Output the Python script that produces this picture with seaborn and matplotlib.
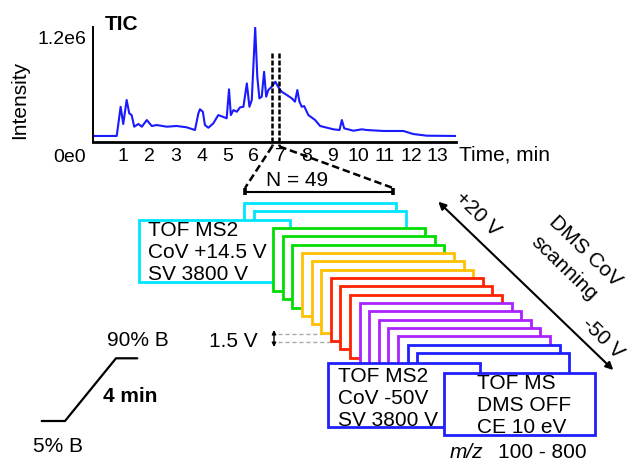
import matplotlib
matplotlib.use("Agg")
import matplotlib.pyplot as plt
from matplotlib.patches import Rectangle
from matplotlib.transforms import ScaledTranslation
import pandas as pd
import seaborn as sns

# Total ion chromatogram: retention time (min) and intensity (counts)
tic_time = [-0.13, 0.76, 0.82, 0.91, 1.01, 1.14, 1.24, 1.33, 1.43, 1.59, 1.72, 1.91,
            2.10, 2.29, 2.67, 3.05, 3.43, 3.75, 3.88, 3.94, 4.05, 4.13, 4.26, 4.45,
            4.64, 4.81, 4.96, 5.05, 5.12, 5.22, 5.35, 5.47, 5.60, 5.73, 5.83, 5.92,
            6.05, 6.13, 6.21, 6.30, 6.39, 6.47, 6.55, 6.68, 6.82, 6.94, 7.06, 7.26,
            7.45, 7.57, 7.66, 7.74, 7.83, 7.92, 8.08, 8.34, 8.53, 9.04, 9.27, 9.36,
            9.45, 9.80, 10.12, 10.31, 10.95, 11.71, 12.09, 12.61, 13.73]
tic_intensity = [69e3, 69e3, 200e3, 403e3, 206e3, 480e3, 328e3, 308e3, 175e3, 206e3,
                 175e3, 251e3, 183e3, 194e3, 175e3, 183e3, 168e3, 137e3, 328e3, 374e3,
                 346e3, 194e3, 163e3, 213e3, 308e3, 289e3, 271e3, 602e3, 308e3, 365e3,
                 346e3, 396e3, 403e3, 670e3, 403e3, 480e3, 1310e3, 746e3, 499e3, 518e3,
                 803e3, 518e3, 594e3, 632e3, 689e3, 625e3, 575e3, 537e3, 499e3, 461e3,
                 594e3, 461e3, 403e3, 411e3, 308e3, 251e3, 183e3, 145e3, 137e3, 251e3,
                 156e3, 129e3, 145e3, 137e3, 126e3, 126e3, 91e3, 72e3, 69e3]

time_ticks = list(range(1, 14))
intensity_ticks = [0, 1.2e6]
intensity_tick_labels = ["0e0", "1.2e6"]

# Chromatographic window that is expanded into the CoV scan cycle
window_times = [6.70, 6.97]
n_scans = 49

# DMS CoV scan stack, drawn from the back (+20 V) to the front (-50 V)
scan_colors = (["#00e5ff"] * 3 + ["#00dd00"] * 3 + ["#ffc000"] * 3 +
               ["#ff2200"] * 3 + ["#aa22ff"] * 5 + ["#1f1fff"] * 3)
survey_color = "#1f1fff"

first_scan_text = ["TOF MS2", "CoV +14.5 V", "SV 3800 V"]
last_scan_text = ["TOF MS2", "CoV -50V", "SV 3800 V"]
survey_text = ["TOF MS", "DMS OFF", "CE 10 eV"]

# LC gradient sketch: (x, y) in figure pixels
gradient_x = [41.7, 65, 116, 137.3]
gradient_y = [421, 421, 358.3, 358.3]

sns.set_style("white")
plt.rcParams["font.family"] = ["Liberation Sans", "DejaVu Sans"]
for key in ["text.color", "axes.labelcolor", "xtick.color", "ytick.color"]:
    plt.rcParams[key] = "black"

W, H = 629, 463
fig = plt.figure(figsize=(W / 100, H / 100), dpi=100)

# ---- chromatogram panel ----
ax_l, ax_r, ax_t, ax_b = 93, 456, 27, 142
ax = fig.add_axes([ax_l / W, 1 - ax_b / H, (ax_r - ax_l) / W, (ax_b - ax_t) / H])
df = pd.DataFrame({"time": tic_time, "intensity": tic_intensity})
sns.lineplot(data=df, x="time", y="intensity", ax=ax, color="#1a1aff", lw=1.5,
             estimator=None, sort=False)
ax.set_xlim(-0.145, 13.72)
ax.set_ylim(0, 1.315e6)
ax.set_xticks(time_ticks)
ax.set_xticklabels([str(t) for t in time_ticks], fontsize=14)
ax.set_yticks(intensity_ticks)
ax.set_yticklabels(intensity_tick_labels, fontsize=14)
ax.tick_params(axis="both", length=0)
ax.tick_params(axis="x", pad=4)
ax.tick_params(axis="y", pad=5)
# the zero label sits level with the time labels
lbl0 = ax.get_yticklabels()[0]
lbl0.set_transform(lbl0.get_transform() + ScaledTranslation(0, -13 / 100, fig.dpi_scale_trans))
for side in ["top", "right"]:
    ax.spines[side].set_visible(False)
ax.spines["bottom"].set_linewidth(2.0)
ax.spines["left"].set_linewidth(1.4)
for s in ["bottom", "left"]:
    ax.spines[s].set_color("black")
ax.set_xlabel("Time, min", fontsize=15)
ax.xaxis.set_label_coords((459 - ax_l) / (ax_r - ax_l), -(155 - ax_b) / (ax_b - ax_t))
ax.xaxis.label.set_ha("left")
ax.xaxis.label.set_va("center")
ax.set_ylabel("Intensity", fontsize=15)
ax.yaxis.set_label_coords((29 - ax_l) / (ax_r - ax_l), (ax_b - 100) / (ax_b - ax_t))
ax.set_facecolor("none")

# selected window (dashed) drawn in data coordinates
for t in window_times:
    ax.plot([t, t], [1.02e6, -0.05e6], color="black", lw=1.8,
            ls=(0, (2, 0.8)), clip_on=False, zorder=5)

# ---- overlay for the acquisition scheme, in pixel units ----
ov = fig.add_axes([0, 0, 1, 1])
ov.set_xlim(0, W)
ov.set_ylim(H, 0)
ov.axis("off")


def to_px(t, v):
    dx, dy = ax.transData.transform((t, v))
    return dx, H - dy


fig.canvas.draw()
(xa, ya) = to_px(window_times[0], -0.05e6)
(xb, yb) = to_px(window_times[1], -0.05e6)
ov.plot([xa, 245], [ya, 188], color="black", lw=1.8, ls=(0, (3, 1.5)))
ov.plot([xb, 393], [yb, 188], color="black", lw=1.8, ls=(0, (3, 1.5)))
ov.plot([245, 393], [191.5, 191.5], color="black", lw=1.5)
for xe in (245, 393):
    ov.plot([xe, xe], [187.5, 194.5], color="black", lw=2.6, solid_capstyle="butt")
ov.text(297, 180, f"N = {n_scans}", fontsize=15, ha="center", va="center")

ov.text(122, 25, "TIC", fontsize=15, fontweight="bold", ha="center", va="center")

# stacked scan frames
x0, y0, step_x, step_y, bw, bh = 244.3, 203, 9.6, 8.33, 152, 63
for i, c in enumerate(scan_colors):
    if i == 2:
        x, y, w, h = 139, 220, 151, 62
    elif i == len(scan_colors) - 1:
        x, y, w, h = 328.3, 363.3, 152, 63.4
    else:
        x, y, w, h = x0 + i * step_x, y0 + i * step_y, bw, bh
    ov.add_patch(Rectangle((x, y), w, h, facecolor="white", edgecolor=c,
                           lw=2.0, joinstyle="miter", zorder=10 + i))
ov.add_patch(Rectangle((444.3, 372.7), 150.7, 62.3, facecolor="white",
                       edgecolor=survey_color, lw=2.0, joinstyle="miter", zorder=40))

ov.text(148, 252, "\n".join(first_scan_text), fontsize=15, ha="left", va="center",
        linespacing=1.2, zorder=50)
ov.text(338, 398.5, "\n".join(last_scan_text), fontsize=15, ha="left", va="center",
        linespacing=1.23, zorder=35)
ov.text(476.7, 405.5, "\n".join(survey_text), fontsize=15, ha="left", va="center",
        linespacing=1.23, zorder=50)

ov.text(450, 452.7, "m/z", fontsize=15, style="italic", ha="left", va="center")
ov.text(498, 452.7, "100 - 800", fontsize=15, ha="left", va="center")

# CoV step indicator
ov.plot([278, 325], [333.5, 333.5], color="#aaaaaa", lw=1.0, ls=(0, (3, 2)))
ov.plot([278, 331], [341.8, 341.8], color="#aaaaaa", lw=1.0, ls=(0, (3, 2)))
ov.annotate("", xy=(274, 347), xytext=(274, 330),
            arrowprops=dict(arrowstyle="<|-|>", color="black", lw=1.0,
                            mutation_scale=6, shrinkA=0, shrinkB=0))
ov.text(258, 341.5, "1.5 V", fontsize=15, ha="right", va="center")

# CoV scanning direction
ov.annotate("", xy=(613.3, 370), xytext=(438.3, 201.7),
            arrowprops=dict(arrowstyle="<|-|>", color="black", lw=1.5,
                            mutation_scale=11, shrinkA=0, shrinkB=0))
rot = -44
ov.text(477.5, 214, "+20 V", fontsize=15, rotation=rot, rotation_mode="anchor",
        ha="center", va="center")
ov.text(603, 338, "-50 V", fontsize=15, rotation=rot, rotation_mode="anchor",
        ha="center", va="center")
ov.text(585, 251.7, "DMS CoV", fontsize=15, rotation=rot, rotation_mode="anchor",
        ha="center", va="center")
ov.text(564, 268, "scanning", fontsize=15, rotation=rot, rotation_mode="anchor",
        ha="center", va="center")

# LC gradient
ov.plot(gradient_x, gradient_y, color="black", lw=1.6, solid_joinstyle="miter")
ov.text(138, 340.7, "90% B", fontsize=15, ha="center", va="center")
ov.text(58.3, 446.7, "5% B", fontsize=15, ha="center", va="center")
ov.text(130.5, 396, "4 min", fontsize=15, fontweight="bold", ha="center", va="center")

fig.savefig("out.png", dpi=100)
